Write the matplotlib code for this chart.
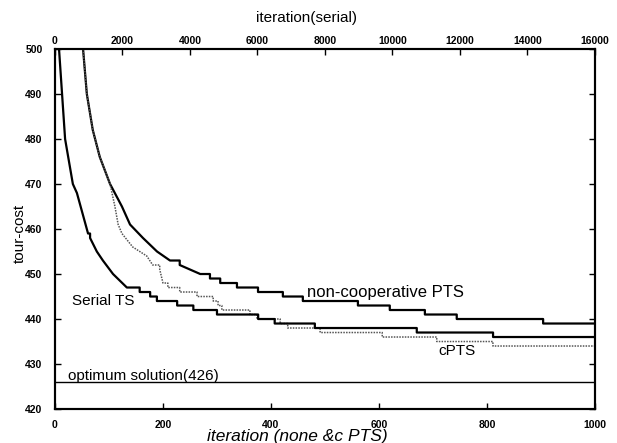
"""Tour cost vs. iteration for serial TS, non-cooperative PTS and cPTS."""

import matplotlib
matplotlib.use("Agg")
import matplotlib.pyplot as plt


# non-cooperative PTS (bottom axis, iterations)
NONCOOP_ITER = [52, 59, 70, 83, 102, 124, 139, 163, 189, 213, 231, 269,
                287, 306, 337, 376, 422, 459, 561, 620, 685, 744, 904, 1000]
NONCOOP_COST = [500, 490, 482, 476, 470, 465, 461, 458, 455, 453, 452, 450,
                449, 448, 447, 446, 445, 444, 443, 442, 441, 440, 439, 439]

# cooperative PTS (bottom axis, iterations)
CPTS_ITER = [52, 59, 70, 83, 102, 111, 117, 124, 144, 170, 181, 194, 200, 209,
             231, 263, 293, 302, 309, 361, 374, 417, 431, 491, 606, 707, 811, 1000]
CPTS_COST = [500, 490, 482, 476, 470, 465, 461, 459, 456, 454, 452, 451, 448, 447,
             446, 445, 444, 443, 442, 441, 440, 439, 438, 437, 436, 435, 434, 434]

# serial TS (top axis, serial iterations)
SERIAL_ITER = [120, 210, 300, 530, 650, 980, 1040, 1240, 1420, 1720, 2130, 2510, 2820,
               3020, 3620, 4100, 4800, 6020, 6510, 7700, 10720, 12980, 16000]
SERIAL_COST = [500, 490, 480, 470, 468, 459, 458, 455, 453, 450, 447, 446, 445,
               444, 443, 442, 441, 440, 439, 438, 437, 436, 436]

OPTIMUM_COST = 426

Y_TICKS = [420, 430, 440, 450, 460, 470, 480, 490, 500]
BOTTOM_TICKS = [0, 200, 400, 600, 800, 1000]
TOP_TICKS = [0, 2000, 4000, 6000, 8000, 10000, 12000, 14000, 16000]


def staircase(x, cost):
    # single-unit drops are drawn as steps, bigger drops as straight segments
    xs, ys = [x[0]], [cost[0]]
    for i in range(1, len(x)):
        if cost[i - 1] - cost[i] <= 1:
            xs.append(x[i])
            ys.append(cost[i - 1])
        xs.append(x[i])
        ys.append(cost[i])
    return xs, ys


plt.rcParams["font.family"] = ["Liberation Sans", "DejaVu Sans"]

fig = plt.figure(figsize=(6.17, 4.43), dpi=100)
ax = fig.add_axes([0.0891, 0.0767, 0.8752, 0.8127])
ax_top = ax.twiny()

x, y = staircase(NONCOOP_ITER, NONCOOP_COST)
ax.plot(x, y, color="black", linewidth=1.6)
x, y = staircase(CPTS_ITER, CPTS_COST)
ax.plot(x, y, color="#555555", linewidth=1.1, linestyle=(0, (1, 0.8)))
x, y = staircase(SERIAL_ITER, SERIAL_COST)
ax_top.plot(x, y, color="black", linewidth=1.6)
ax.axhline(OPTIMUM_COST, color="black", linewidth=1.0)

ax.set_xlim(0, 1000)
ax.set_ylim(420, 500)
ax_top.set_xlim(0, 16000)

ax.set_xticks(BOTTOM_TICKS)
ax.set_yticks(Y_TICKS)
ax_top.set_xticks(TOP_TICKS)

for a in (ax, ax_top):
    for spine in a.spines.values():
        spine.set_linewidth(1.5)
ax.tick_params(axis="both", direction="in", length=4, width=1, labelsize=7.5,
               right=True)
ax.tick_params(axis="y", pad=9)
ax.tick_params(axis="x", pad=8)
ax_top.tick_params(axis="x", direction="in", length=4, width=1, labelsize=7.5, pad=2)
for label in ax.get_xticklabels() + ax.get_yticklabels() + ax_top.get_xticklabels():
    label.set_fontweight("bold")

ax.set_xlabel("iteration (none &c PTS)", fontsize=12.5, fontstyle="italic", va="top")
ax.xaxis.set_label_coords(0.448, -0.056)
ax_top.set_xlabel("iteration(serial)", fontsize=11, va="bottom")
ax_top.xaxis.set_label_coords(0.465, 1.067)
ax.set_ylabel("tour-cost", fontsize=11)
ax.yaxis.set_label_coords(-0.052, 0.489)

ax.text(467, 446.0, "non-cooperative PTS", fontsize=12, va="center", ha="left")
ax.text(31, 444.0, "Serial TS", fontsize=11, va="center", ha="left")
ax.text(745, 432.8, "cPTS", fontsize=11, va="center", ha="center")
ax.text(24, 427.3, "optimum solution(426)", fontsize=11, va="center", ha="left")

fig.savefig("out.png", dpi=100)
